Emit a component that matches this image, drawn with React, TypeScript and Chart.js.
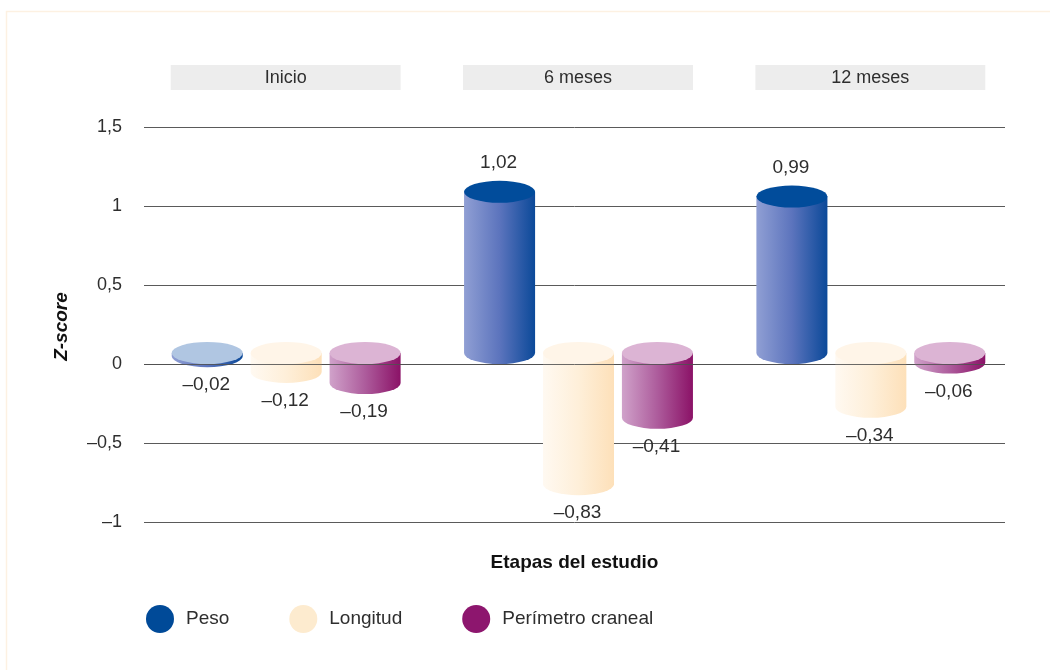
import React, { useEffect, useRef } from 'react';
import { Chart, registerables } from 'chart.js';

Chart.register(...registerables);

// Study stages and z-score means per measure
const stages = ['Inicio', '6 meses', '12 meses'];
const seriesNames = ['Peso', 'Longitud', 'Perímetro craneal'];
const peso = [-0.02, 1.02, 0.99];
const longitud = [-0.12, -0.83, -0.34];
const perimetro = [-0.19, -0.41, -0.06];
const yTickValues = [-1, -0.5, 0, 0.5, 1, 1.5];

const yAxisTitle = 'Z-score';
const xAxisTitle = 'Etapas del estudio';

// Per-series palette: legend swatch, top cap when positive, top cap when negative, body gradient stops
const legendColors = ['#004a98', '#fdebcf', '#8d166e'];
const capUp = ['#014c9b', '#fff4e4', '#dbb3d3'];
const capDown = ['#b0c6e2', '#fff5e8', '#dcb4d4'];
const bodyStops = [
  ['#909fd4', '#5c74bd', '#0b4999'],
  ['#fff9f1', '#feefd9', '#fde0b9'],
  ['#d0a2ca', '#ad5c9c', '#8b1267'],
];

const FONT = '"Liberation Sans", Arial, Helvetica, sans-serif';
const TEXT = '#2e2e2e';

const fmt = (v: number) =>
  (v < 0 ? '\u2013' : '') + String(Math.abs(v)).replace('.', ',');

const RY = 11; // vertical radius of the cylinder ellipses

function drawCylinder(
  ctx: CanvasRenderingContext2D,
  x: number,
  w: number,
  yZero: number,
  yVal: number,
  cap: string,
  stops: string[]
) {
  const rx = w / 2;
  const top = Math.min(yZero, yVal) - RY;
  const bot = Math.max(yZero, yVal) - RY;
  const g = ctx.createLinearGradient(x - rx, 0, x + rx, 0);
  g.addColorStop(0, stops[0]);
  g.addColorStop(0.5, stops[1]);
  g.addColorStop(1, stops[2]);
  ctx.beginPath();
  ctx.moveTo(x - rx, top);
  ctx.lineTo(x - rx, bot);
  ctx.ellipse(x, bot, rx, RY, 0, Math.PI, 0, true);
  ctx.lineTo(x + rx, top);
  ctx.closePath();
  ctx.fillStyle = g;
  ctx.fill();
  ctx.beginPath();
  ctx.ellipse(x, top, rx, RY, 0, 0, Math.PI * 2);
  ctx.fillStyle = cap;
  ctx.fill();
}

const cylinderPlugin = {
  id: 'cylinders',
  beforeDatasetsDraw(chart: any) {
    const { ctx, chartArea, scales } = chart;
    const y = scales.y;
    ctx.save();

    // thin frame on the top and left edges
    ctx.strokeStyle = '#fdf1e2';
    ctx.lineWidth = 1.5;
    ctx.beginPath();
    ctx.moveTo(6.5, 670);
    ctx.lineTo(6.5, 11.5);
    ctx.lineTo(1050, 11.5);
    ctx.stroke();

    // stage header boxes spanning each group of bars
    const metas = [0, 1, 2].map((i) => chart.getDatasetMeta(i));
    stages.forEach((label: string, i: number) => {
      const first = metas[0].data[i];
      const last = metas[2].data[i];
      const l = first.x - first.width / 2 - 1;
      const r = last.x + last.width / 2;
      ctx.fillStyle = '#ededed';
      ctx.fillRect(l, 65, r - l, 25);
      ctx.fillStyle = TEXT;
      ctx.font = `18px ${FONT}`;
      ctx.textAlign = 'center';
      ctx.textBaseline = 'middle';
      ctx.fillText(label, (l + r) / 2, 78);
    });

    // horizontal grid lines
    const gl = chartArea.left + 4;
    const gr = chartArea.right - 12;
    ctx.strokeStyle = '#5a5a5a';
    ctx.lineWidth = 1;
    yTickValues.forEach((t) => {
      const py = Math.round(y.getPixelForValue(t)) + 0.5;
      ctx.beginPath();
      ctx.moveTo(gl, py);
      ctx.lineTo(gr, py);
      ctx.stroke();
    });

    // axis titles
    ctx.fillStyle = '#111';
    ctx.font = `italic bold 19px ${FONT}`;
    ctx.textAlign = 'center';
    ctx.textBaseline = 'middle';
    ctx.save();
    ctx.translate(62, (chartArea.top + chartArea.bottom) / 2 + 2);
    ctx.rotate(-Math.PI / 2);
    ctx.fillText(yAxisTitle, 0, 0);
    ctx.restore();

    ctx.font = `bold 19px ${FONT}`;
    ctx.fillText(xAxisTitle, (gl + gr) / 2, 563);

    // legend
    ctx.font = `19px ${FONT}`;
    ctx.textAlign = 'left';
    let lx = 160;
    seriesNames.forEach((name, i) => {
      ctx.beginPath();
      ctx.arc(lx, 619, 14, 0, Math.PI * 2);
      ctx.fillStyle = legendColors[i];
      ctx.fill();
      ctx.fillStyle = TEXT;
      ctx.fillText(name, lx + 26, 619);
      lx += 26 + ctx.measureText(name).width + 74;
    });

    ctx.restore();
  },
  afterDatasetsDraw(chart: any) {
    const { ctx, chartArea, scales } = chart;
    const y = scales.y;
    const y0 = y.getPixelForValue(0);
    ctx.save();

    chart.data.datasets.forEach((ds: any, si: number) => {
      const meta = chart.getDatasetMeta(si);
      meta.data.forEach((bar: any, i: number) => {
        const v = ds.data[i];
        const yv = y.getPixelForValue(v);
        drawCylinder(ctx, bar.x, bar.width, y0, yv, v >= 0 ? capUp[si] : capDown[si], bodyStops[si]);
      });
    });

    // zero line sits in front of the cylinders
    const pz = Math.round(y0) + 0.5;
    ctx.strokeStyle = 'rgba(80,80,80,0.85)';
    ctx.lineWidth = 1;
    ctx.beginPath();
    ctx.moveTo(chartArea.left + 4, pz);
    ctx.lineTo(chartArea.right - 12, pz);
    ctx.stroke();

    // value labels
    ctx.font = `19px ${FONT}`;
    ctx.fillStyle = TEXT;
    ctx.textAlign = 'center';
    ctx.textBaseline = 'middle';
    chart.data.datasets.forEach((ds: any, si: number) => {
      const meta = chart.getDatasetMeta(si);
      meta.data.forEach((bar: any, i: number) => {
        const v = ds.data[i];
        const yv = y.getPixelForValue(v);
        const ly = v >= 0 ? yv - 2 * RY - 18 : yv + 18;
        ctx.fillText(fmt(v), bar.x - 1, ly);
      });
    });

    ctx.restore();
  },
};

export default function App() {
  const canvasRef = useRef<HTMLCanvasElement | null>(null);

  useEffect(() => {
    if (!canvasRef.current) return;
    const seriesValues = [peso, longitud, perimetro];
    const chart = new Chart(canvasRef.current, {
      type: 'bar',
      data: {
        labels: stages,
        datasets: seriesNames.map((name, i) => ({
          label: name,
          data: seriesValues[i],
          backgroundColor: 'rgba(0,0,0,0)',
          borderWidth: 0,
          categoryPercentage: 0.81,
          barPercentage: 0.9,
        })),
      },
      options: {
        responsive: false,
        animation: false,
        devicePixelRatio: 1,
        layout: { padding: { left: 0, right: 33, top: 127, bottom: 148 } },
        plugins: {
          legend: { display: false },
          tooltip: { enabled: false },
        },
        scales: {
          x: { display: false },
          y: {
            min: -1,
            max: 1.5,
            afterFit: (scale: any) => {
              scale.width = 140;
            },
            afterBuildTicks: (scale: any) => {
              scale.ticks = yTickValues.map((v) => ({ value: v }));
            },
            grid: { display: false, drawTicks: false },
            border: { display: false },
            ticks: {
              padding: 18,
              color: TEXT,
              font: { family: FONT, size: 18 },
              callback: (v: any) => fmt(Number(v)),
            },
          },
        },
      },
      plugins: [cylinderPlugin],
    });
    return () => chart.destroy();
  }, []);

  return (
    <div style={{ position: 'absolute', left: 0, top: 0, width: 1050, height: 670, background: '#fff' }}>
      <canvas ref={canvasRef} width={1050} height={670} />
    </div>
  );
}
